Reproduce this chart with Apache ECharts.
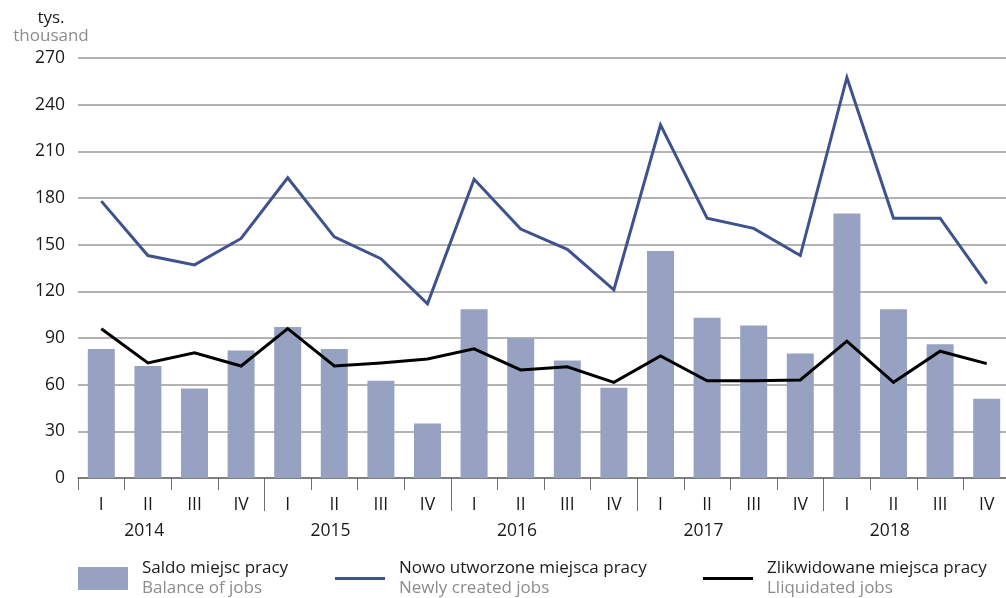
<!DOCTYPE html>
<html>
<head>
<meta charset="utf-8">
<script src="https://cdn.jsdelivr.net/npm/echarts@6/dist/echarts.min.js"></script>
<style>
  html, body { margin: 0; padding: 0; background: #ffffff; }
  #chart { width: 1006px; height: 598px; }
</style>
</head>
<body>
<div id="chart"></div>
<script>
// Quarterly labour market flows, 2014-2018 (thousands)
const quarters = ['I', 'II', 'III', 'IV', 'I', 'II', 'III', 'IV', 'I', 'II', 'III', 'IV',
                  'I', 'II', 'III', 'IV', 'I', 'II', 'III', 'IV'];
const years = ['2014', '2015', '2016', '2017', '2018'];
const yTicks = { min: 0, max: 270, step: 30 };

// Saldo miejsc pracy / Balance of jobs
const balance = [83, 72, 57.5, 82, 97, 83, 62.5, 35, 108.5, 90, 75.5, 58,
                 146, 103, 98, 80, 170, 108.5, 86, 51];
// Nowo utworzone miejsca pracy / Newly created jobs
const created = [178, 143, 137, 154, 193, 155, 141, 112, 192, 160, 147, 121,
                 227, 167, 160.5, 143, 257.5, 167, 167, 125];
// Zlikwidowane miejsca pracy / Liquidated jobs
const liquidated = [96, 74, 80.5, 72, 96, 72, 74, 76.5, 83, 69.5, 71.5, 61.5,
                    78.5, 62.5, 62.5, 63, 88, 61.5, 81.5, 73.5];

const seriesNames = ['Saldo miejsc pracy', 'Nowo utworzone miejsca pracy', 'Zlikwidowane miejsca pracy'];
const seriesNamesEn = ['Balance of jobs', 'Newly created jobs', 'Lliquidated jobs'];

const FONT = '"Open Sans", "Noto Sans", sans-serif';
const INK = '#1a1a1a';
const GREY_TEXT = '#8c8c8c';
const AXIS_GREY = '#6e6e6e';
const BAR_COLOR = '#97a2c3';
const BLUE = '#3e528e';
const BLACK = '#000000';

const legendRich = {
  a: { fontFamily: FONT, fontSize: 17, color: INK, lineHeight: 20, padding: [0, 0, 0, 9] },
  b: { fontFamily: FONT, fontSize: 17, color: GREY_TEXT, lineHeight: 20, padding: [0, 0, 0, 9] }
};
const legendFormatter = function (name) {
  const i = seriesNames.indexOf(name);
  return '{a|' + name + '}\n{b|' + seriesNamesEn[i] + '}';
};
const lineIcon = 'path://M0,0L50,0L50,3L0,3Z';

function makeLegend(left, name, icon) {
  return {
    left: left, top: 560, padding: 0,
    itemWidth: 50, itemHeight: 23,
    selectedMode: false,
    data: [{ name: name, icon: icon, itemStyle: { borderWidth: 0 } }],
    formatter: legendFormatter,
    textStyle: { rich: legendRich }
  };
}

const chart = echarts.init(document.getElementById('chart'), null, { renderer: 'canvas' });

chart.setOption({
  backgroundColor: '#ffffff',
  animation: false,
  textStyle: { fontFamily: FONT },
  grid: { left: 78, top: 58, height: 420, width: 932, outerBoundsMode: 'none', containLabel: false },
  legend: [
    makeLegend(78, seriesNames[0], 'rect'),
    makeLegend(335, seriesNames[1], lineIcon),
    makeLegend(703, seriesNames[2], lineIcon)
  ],
  xAxis: [
    {
      type: 'category',
      data: quarters,
      position: 'bottom',
      boundaryGap: true,
      axisLine: { show: true, lineStyle: { color: AXIS_GREY, width: 1.5 } },
      axisTick: { show: true, interval: 0, length: 12, lineStyle: { color: AXIS_GREY, width: 1 } },
      axisLabel: { interval: 0, margin: 18, fontFamily: FONT, fontSize: 17.5, color: INK },
      splitLine: { show: false }
    },
    {
      type: 'category',
      data: years,
      position: 'bottom',
      boundaryGap: true,
      axisLine: { show: false },
      axisTick: {
        show: true, length: 33,
        interval: function (index) { return index > 0; },
        lineStyle: { color: AXIS_GREY, width: 1 }
      },
      axisLabel: {
        interval: 0, margin: 44, fontFamily: FONT, fontSize: 17.5, color: INK,
        padding: [0, 54, 0, 0]
      },
      splitLine: { show: false }
    }
  ],
  yAxis: {
    type: 'value',
    min: yTicks.min, max: yTicks.max, interval: yTicks.step,
    name: '{a|tys.}\n{b|thousand}',
    nameLocation: 'end',
    nameGap: 13,
    nameTextStyle: {
      padding: [0, 54, 0, 0],
      rich: {
        a: { fontFamily: FONT, fontSize: 17, color: INK, lineHeight: 18, align: 'center' },
        b: { fontFamily: FONT, fontSize: 17, color: GREY_TEXT, lineHeight: 18, align: 'center' }
      }
    },
    axisLine: { show: false },
    axisTick: { show: false },
    axisLabel: { margin: 13, fontFamily: FONT, fontSize: 17.5, color: INK },
    splitLine: { show: true, lineStyle: { color: '#9a9a9a', width: 1.5 } }
  },
  series: [
    {
      name: seriesNames[0],
      type: 'bar',
      xAxisIndex: 0,
      data: balance,
      barWidth: 27,
      itemStyle: { color: BAR_COLOR },
      z: 2
    },
    {
      name: seriesNames[1],
      type: 'line',
      xAxisIndex: 0,
      data: created,
      symbol: 'none',
      color: BLUE,
      itemStyle: { color: BLUE },
      lineStyle: { color: BLUE, width: 3, join: 'miter', cap: 'butt' },
      z: 3
    },
    {
      name: seriesNames[2],
      type: 'line',
      xAxisIndex: 0,
      data: liquidated,
      symbol: 'none',
      color: BLACK,
      itemStyle: { color: BLACK },
      lineStyle: { color: BLACK, width: 3, join: 'miter', cap: 'butt' },
      z: 4
    }
  ]
});
</script>
</body>
</html>
